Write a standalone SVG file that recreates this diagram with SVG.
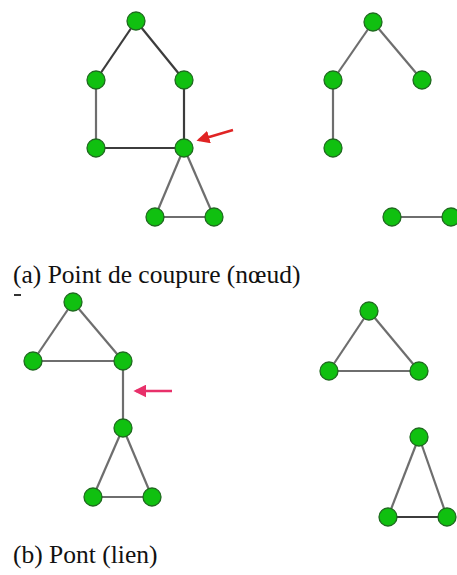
<svg xmlns="http://www.w3.org/2000/svg" width="457" height="575" viewBox="0 0 457 575">
<defs>
<style>
.e{stroke:#6e6e6e;stroke-width:2.2;fill:none}
.d{stroke:#3c3c3c}
.n{fill:#10c010;stroke:#1f6a1f;stroke-width:1.3}
.t{font-family:'Times New Roman',Times,'Liberation Serif',Tinos,'Noto Serif','DejaVu Serif',serif;font-size:25.5px;fill:#111}
</style>
<marker id="ar" viewBox="0 0 10 10" refX="8" refY="5" markerWidth="5" markerHeight="5" orient="auto-start-reverse"><path d="M0,0 L10,5 L0,10 z" fill="#e02424"/></marker>
<marker id="ap" viewBox="0 0 10 10" refX="8" refY="5" markerWidth="5" markerHeight="5" orient="auto-start-reverse"><path d="M0,0 L10,5 L0,10 z" fill="#e8306a"/></marker>
</defs>
<rect width="457" height="575" fill="#fff"/>
<g id="connectors">
<line class="e d" x1="136" y1="21" x2="96" y2="80"/>
<line class="e d" x1="136" y1="21" x2="184" y2="80"/>
<line class="e" x1="96" y1="80" x2="96" y2="148"/>
<line class="e d" x1="184" y1="80" x2="184" y2="148"/>
<line class="e d" x1="96" y1="148" x2="184" y2="148"/>
<line class="e" x1="184" y1="148" x2="155" y2="217"/>
<line class="e" x1="184" y1="148" x2="214" y2="217"/>
<line class="e" x1="155" y1="217" x2="214" y2="217"/>
<line class="e" x1="373" y1="22" x2="333" y2="80"/>
<line class="e" x1="373" y1="22" x2="422" y2="80"/>
<line class="e" x1="333" y1="80" x2="333" y2="148"/>
<line class="e" x1="392" y1="217" x2="451" y2="217"/>
<line class="e" x1="73" y1="302" x2="33" y2="361"/>
<line class="e" x1="73" y1="302" x2="123" y2="361"/>
<line class="e" x1="33" y1="361" x2="123" y2="361"/>
<line class="e" x1="123" y1="361" x2="123" y2="428"/>
<line class="e" x1="123" y1="428" x2="93" y2="497"/>
<line class="e" x1="123" y1="428" x2="152" y2="497"/>
<line class="e" x1="93" y1="497" x2="152" y2="497"/>
<line class="e" x1="369" y1="311" x2="329" y2="371"/>
<line class="e" x1="369" y1="311" x2="419" y2="371"/>
<line class="e" x1="329" y1="371" x2="419" y2="371"/>
<line class="e" x1="419" y1="437" x2="388" y2="517"/>
<line class="e" x1="419" y1="437" x2="447" y2="517"/>
<line class="e d" x1="388" y1="517" x2="447" y2="517"/>
<line x1="233" y1="130" x2="199" y2="140" stroke="#e02424" stroke-width="2.6" marker-end="url(#ar)"/>
<line x1="172" y1="391" x2="136" y2="391" stroke="#e8306a" stroke-width="2.6" marker-end="url(#ap)"/>
</g>
<g id="a1"><circle class="n" cx="136" cy="21" r="9"/></g>
<g id="a2"><circle class="n" cx="96" cy="80" r="9"/></g>
<g id="a3"><circle class="n" cx="184" cy="80" r="9"/></g>
<g id="a4"><circle class="n" cx="96" cy="148" r="9"/></g>
<g id="a5"><circle class="n" cx="184" cy="148" r="9"/></g>
<g id="a6"><circle class="n" cx="155" cy="217" r="9"/></g>
<g id="a7"><circle class="n" cx="214" cy="217" r="9"/></g>
<g id="b1"><circle class="n" cx="373" cy="22" r="9"/></g>
<g id="b2"><circle class="n" cx="333" cy="80" r="9"/></g>
<g id="b3"><circle class="n" cx="422" cy="80" r="9"/></g>
<g id="b4"><circle class="n" cx="333" cy="148" r="9"/></g>
<g id="b5"><circle class="n" cx="392" cy="217" r="9"/></g>
<g id="b6"><circle class="n" cx="451" cy="217" r="9"/></g>
<g id="c1"><circle class="n" cx="73" cy="302" r="9"/></g>
<g id="c2"><circle class="n" cx="33" cy="361" r="9"/></g>
<g id="c3"><circle class="n" cx="123" cy="361" r="9"/></g>
<g id="c4"><circle class="n" cx="123" cy="428" r="9"/></g>
<g id="c5"><circle class="n" cx="93" cy="497" r="9"/></g>
<g id="c6"><circle class="n" cx="152" cy="497" r="9"/></g>
<g id="d1"><circle class="n" cx="369" cy="311" r="9"/></g>
<g id="d2"><circle class="n" cx="329" cy="371" r="9"/></g>
<g id="d3"><circle class="n" cx="419" cy="371" r="9"/></g>
<g id="d4"><circle class="n" cx="419" cy="437" r="9"/></g>
<g id="d5"><circle class="n" cx="388" cy="517" r="9"/></g>
<g id="d6"><circle class="n" cx="447" cy="517" r="9"/></g>
<rect x="14" y="294" width="7" height="2" fill="#333"/>
<text class="t" x="13" y="283">(a) Point de coupure (nœud)</text>
<text class="t" x="13" y="563">(b) Pont (lien)</text>
</svg>
